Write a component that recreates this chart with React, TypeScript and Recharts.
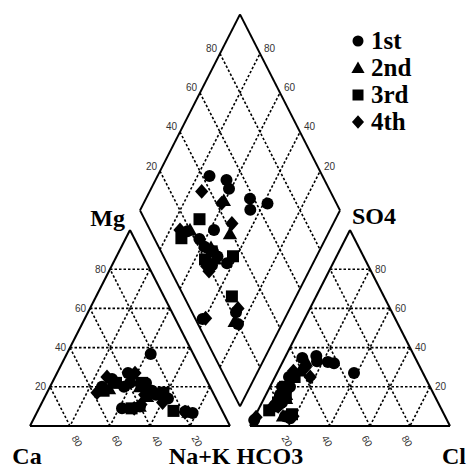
import React from 'react';
import { ScatterChart, Scatter, XAxis, YAxis, ReferenceLine, Legend } from 'recharts';

// one sample per row: [Mg, Na+K, SO4, Cl] in % meq (Ca and HCO3 make up the rest)
const firstRound = [
  [20, 26, 34.7, 8.8],
  [27, 35.5, 35.7, 15.3],
  [22, 39, 33, 17],
  [18, 52, 32, 26],
  [14, 62, 27, 38.5],
  [16, 55, 32.7, 22.6],
  [24, 29, 10, 8.4],
  [20, 37, 15, 7.4],
  [36.7, 42, 25, 7],
  [9, 41.5, 16, 7],
  [18, 50.5, 18, 9],
  [15, 59, 3, 0.6],
  [10, 50, 12, 10],
  [7.5, 74, 4, 18],
  [16.8, 57, 20, 10],
  [6.6, 78, 5, 15],
  [22, 47, 20, 6],
];
const secondRound = [
  [15, 51, 28, 11],
  [23, 39.4, 33, 11.4],
  [10, 49.8, 14, 11],
  [7, 75.7, 5, 14],
  [20, 45, 16, 10],
  [19, 30, 12, 8],
];
const thirdRound = [
  [22, 32, 20, 7.5],
  [18, 27.8, 8, 5.6],
  [9, 46.3, 15, 10.4],
  [17, 58.2, 25, 9.8],
  [7.7, 67.9, 6, 18],
  [22, 45, 12, 8],
];
const fourthRound = [
  [25, 26, 28, 7.7],
  [27, 39, 30, 12.7],
  [16, 49.3, 25, 17.6],
  [9, 47.6, 10, 9.1],
  [7, 74, 5, 19],
  [12, 60.3, 4.5, 0.8],
  [11, 50, 12, 7],
  [17, 25, 9, 6],
];

const seriesNames = ['1st', '2nd', '3rd', '4th'];
const seriesShapes = ['circle', 'triangle', 'square', 'diamond'];
const gridPercents = [20, 40, 60, 80];

// piper geometry: triangles 100 wide, 10 apart, equilateral in data units
const H = 86.6025;
const GAP = 10;
const DIA_LOW = (GAP * H) / 100;

const cationXY = (mg: number, na: number) => ({ x: na + mg / 2, y: (mg * H) / 100 });
const anionXY = (so4: number, cl: number) => ({ x: 100 + GAP + cl + so4 / 2, y: (so4 * H) / 100 });
const diamondXY = (na: number, sc: number) => ({
  x: 50 + GAP / 2 + (na + sc) / 2,
  y: H + DIA_LOW + ((sc - na) * H) / 100,
});

const toPoints = (rows: number[][]) =>
  rows.flatMap(([mg, na, so4, cl]) => [cationXY(mg, na), anionXY(so4, cl), diamondXY(na, so4 + cl)]);

type P = { x: number; y: number };
const lerp = (a: P, b: P, t: number) => ({ x: a.x + (b.x - a.x) * t, y: a.y + (b.y - a.y) * t });

const catCa = { x: 0, y: 0 }, catNa = { x: 100, y: 0 }, catMg = { x: 50, y: H };
const anHc = { x: 100 + GAP, y: 0 }, anCl = { x: 200 + GAP, y: 0 }, anSo = { x: 150 + GAP, y: H };
const dL = diamondXY(0, 0), dB = diamondXY(100, 0), dT = diamondXY(0, 100), dR = diamondXY(100, 100);

const segments: { a: P; b: P; dashed: boolean }[] = [];
const triangle = (v: P[]) => {
  for (let i = 0; i < 3; i++) segments.push({ a: v[i], b: v[(i + 1) % 3], dashed: false });
  gridPercents.forEach((p) => {
    const f = p / 100;
    for (let i = 0; i < 3; i++) {
      const o1 = v[(i + 1) % 3], o2 = v[(i + 2) % 3];
      segments.push({ a: lerp(o1, v[i], f), b: lerp(o2, v[i], f), dashed: true });
    }
  });
};
triangle([catCa, catNa, catMg]);
triangle([anHc, anCl, anSo]);
[[dL, dB], [dB, dR], [dR, dT], [dT, dL]].forEach(([a, b]) => segments.push({ a, b, dashed: false }));
gridPercents.forEach((p) => {
  const f = p / 100;
  segments.push({ a: lerp(dL, dB, f), b: lerp(dT, dR, f), dashed: true });
  segments.push({ a: lerp(dL, dT, f), b: lerp(dB, dR, f), dashed: true });
});

type Lbl = P & { text: string; anchor: string; dx: number; dy: number; rot?: number; title?: boolean };
const labels: Lbl[] = [];
gridPercents.forEach((p) => {
  const t = String(p);
  labels.push({ ...cationXY(p, 0), text: t, anchor: 'end', dx: -4, dy: 0 });
  labels.push({ ...cationXY(0, 100 - p), text: t, anchor: 'middle', dx: 7, dy: 15, rot: 60 });
  labels.push({ ...anionXY(p, 100 - p), text: t, anchor: 'start', dx: 5, dy: 0 });
  labels.push({ ...anionXY(0, p), text: t, anchor: 'middle', dx: -3, dy: 15, rot: 60 });
  labels.push({ ...diamondXY(0, p), text: t, anchor: 'end', dx: -3, dy: -5 });
  labels.push({ ...diamondXY(100 - p, 100), text: t, anchor: 'start', dx: 4, dy: -5 });
});
labels.push({ ...catMg, text: 'Mg', anchor: 'end', dx: -5, dy: -4, title: true });
labels.push({ ...anSo, text: 'SO4', anchor: 'start', dx: 2, dy: -6, title: true });
labels.push({ ...catCa, text: 'Ca', anchor: 'middle', dx: -3, dy: 38, title: true });
labels.push({ ...lerp(catNa, anHc, 0.5), text: 'Na+K HCO3', anchor: 'middle', dx: -4, dy: 38, title: true });
labels.push({ ...anCl, text: 'Cl', anchor: 'middle', dx: 4, dy: 38, title: true });

const marker = (type: string, cx: number, cy: number, s: number) => {
  if (type === 'circle') return <circle cx={cx} cy={cy} r={s / 2} fill="#000" />;
  if (type === 'square') return <rect x={cx - s / 2} y={cy - s / 2} width={s} height={s} fill="#000" />;
  if (type === 'triangle')
    return <polygon points={`${cx},${cy - s * 0.6} ${cx + s * 0.6},${cy + s * 0.45} ${cx - s * 0.6},${cy + s * 0.45}`} fill="#000" />;
  return <polygon points={`${cx},${cy - s * 0.62} ${cx + s * 0.55},${cy} ${cx},${cy + s * 0.62} ${cx - s * 0.55},${cy}`} fill="#000" />;
};

const LabelShape = (props: any) => {
  const { cx, cy, payload } = props;
  const x = cx + payload.dx;
  const y = cy + payload.dy;
  return (
    <text
      x={x}
      y={y}
      textAnchor={payload.anchor}
      dominantBaseline={payload.title ? 'auto' : 'central'}
      transform={payload.rot ? `rotate(${payload.rot} ${x} ${y})` : undefined}
      fontFamily={payload.title ? '"Liberation Serif", serif' : '"Liberation Sans", Arial, sans-serif'}
      fontWeight={payload.title ? 'bold' : 'normal'}
      fontSize={payload.title ? 24 : 10}
      fill={payload.title ? '#000' : '#333'}
    >
      {payload.text}
    </text>
  );
};

const renderLegend = (props: any) => (
  <div style={{ fontFamily: '"Liberation Serif", serif', fontWeight: 'bold', fontSize: 25, lineHeight: '27px' }}>
    {(props.payload || [])
      .filter((e: any) => seriesNames.includes(e.value))
      .map((e: any) => (
        <div key={e.value} style={{ display: 'flex', alignItems: 'center', height: 27 }}>
          <svg width={16} height={16} style={{ marginRight: 5 }}>
            {marker(e.type, 8, 8, 11)}
          </svg>
          <span>{e.value}</span>
        </div>
      ))}
  </div>
);

const seriesData = [firstRound, secondRound, thirdRound, fourthRound];

export default function App() {
  return (
    <div style={{ position: 'absolute', left: 0, top: 0 }}>
      <ScatterChart width={471} height={470} margin={{ top: 0, right: 0, bottom: 0, left: 0 }}>
        <XAxis type="number" dataKey="x" domain={[-15, 220.5]} allowDataOverflow hide />
        <YAxis type="number" dataKey="y" domain={[-19.44, 188.22]} allowDataOverflow hide />
        {segments.map((s, i) => (
          <ReferenceLine
            key={i}
            segment={[s.a, s.b]}
            stroke="#000"
            strokeWidth={s.dashed ? 1.6 : 2}
            strokeDasharray={s.dashed ? '2.5 2' : undefined}
            ifOverflow="visible"
          />
        ))}
        {seriesData.map((rows, i) => (
          <Scatter
            key={seriesNames[i]}
            name={seriesNames[i]}
            data={toPoints(rows)}
            legendType={seriesShapes[i] as any}
            isAnimationActive={false}
            shape={(p: any) => marker(seriesShapes[i], p.cx, p.cy, 12)}
          />
        ))}
        <Scatter name="labels" data={labels} legendType="none" isAnimationActive={false} shape={LabelShape} />
        <Legend
          layout="vertical"
          align="center"
          verticalAlign="middle"
          content={renderLegend}
          wrapperStyle={{ left: 350, top: 27, width: 90, height: 110 }}
        />
      </ScatterChart>
    </div>
  );
}
